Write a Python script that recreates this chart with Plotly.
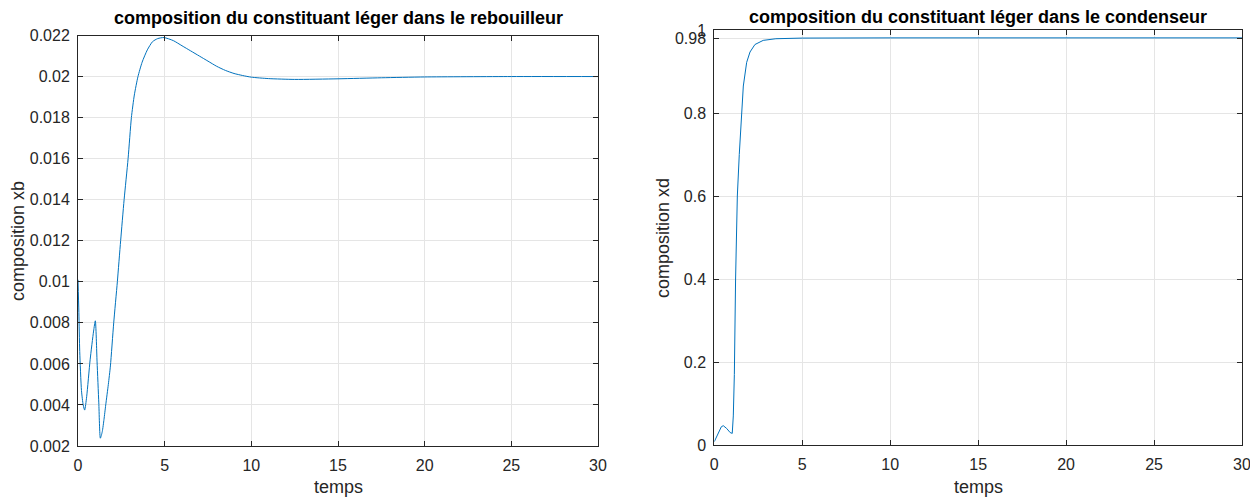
import plotly.graph_objects as go

# --- reboiler composition xb ---
t_b = [0, 0.05, 0.1, 0.2, 0.3, 0.385, 0.5, 0.7, 0.9, 1.0, 1.1, 1.2, 1.29, 1.4, 1.5, 1.6,
       1.75, 1.87, 2.06, 2.27, 2.46, 2.66, 2.89, 3.08, 3.25, 3.46, 3.7, 4.0, 4.3, 4.6, 4.96,
       5.5, 6.0, 6.5, 7.0, 7.5, 8.0, 8.5, 9.0, 9.5, 10.0, 11.0, 12.5, 15.0, 17.5, 20.0,
       25.0, 30.0]
xb = [0.0101, 0.0085, 0.0066, 0.0047, 0.0040, 0.00375, 0.0044, 0.0062, 0.0076, 0.0081,
      0.0061, 0.0041, 0.00238, 0.0027, 0.0033, 0.0040, 0.0050, 0.0059, 0.0080, 0.0100,
      0.0120, 0.0140, 0.0160, 0.0180, 0.0191, 0.0200, 0.0207, 0.0213, 0.0217, 0.02185,
      0.0219, 0.02175, 0.0215, 0.02125, 0.0210, 0.02075, 0.0205, 0.0203, 0.02015, 0.02005,
      0.01997, 0.0199, 0.01986, 0.01989, 0.01994, 0.01998, 0.0200, 0.0200]

# --- condenser composition xd ---
t_d = [0, 0.2, 0.4, 0.51, 0.7, 0.9, 1.02, 1.08, 1.14, 1.21, 1.31, 1.42, 1.56, 1.65,
       1.84, 2.03, 2.31, 2.78, 3.5, 5.0, 10.0, 20.0, 30.0]
xd = [0.008, 0.028, 0.044, 0.0465, 0.040, 0.030, 0.028, 0.07, 0.17, 0.40, 0.60, 0.70,
      0.80, 0.865, 0.922, 0.947, 0.965, 0.975, 0.979, 0.9805, 0.981, 0.981, 0.981]

x_ticks = [0, 5, 10, 15, 20, 25, 30]
yb_ticks = [0.002, 0.004, 0.006, 0.008, 0.010, 0.012, 0.014, 0.016, 0.018, 0.020, 0.022]
yb_labels = ["0.002", "0.004", "0.006", "0.008", "0.01", "0.012", "0.014", "0.016",
             "0.018", "0.02", "0.022"]
yd_ticks = [0, 0.2, 0.4, 0.6, 0.8, 0.98, 1]
yd_labels = ["0", "0.2", "0.4", "0.6", "0.8", "0.98", "1"]

titles = ["composition du constituant léger dans le rebouilleur",
          "composition du constituant léger dans le condenseur"]
xlabel = "temps"
ylabels = ["composition xb", "composition xd"]

# page body adds an 8px offset; lay out in page pixels and shift by it
OFF = 8
W, H = 1258 - OFF, 497 - OFF
LINE = "#0072BD"
AX = "#262626"
GRID = "#e5e5e5"
FONT = "Liberation Sans, Arial, sans-serif"

fig = go.Figure()
fig.add_trace(go.Scatter(x=t_b, y=xb, mode="lines",
                         line=dict(color=LINE, width=1, shape="spline", smoothing=0.6),
                         xaxis="x", yaxis="y", showlegend=False))
fig.add_trace(go.Scatter(x=t_d, y=xd, mode="lines", line=dict(color=LINE, width=1),
                         xaxis="x2", yaxis="y2", showlegend=False))

def px_x(p):
    return (p - OFF) / W

def px_y(p):
    return 1 - (p - OFF) / H

common_axis = dict(showline=True, linecolor=AX, linewidth=1, mirror="ticks",
                   ticks="inside", ticklen=5, tickcolor=AX, showgrid=True,
                   gridcolor=GRID, gridwidth=1, zeroline=False, automargin=False,
                   tickfont=dict(family=FONT, size=16, color=AX))

fig.update_layout(
    width=W, height=H, margin=dict(l=0, r=0, t=0, b=0, pad=0, autoexpand=False),
    paper_bgcolor="white", plot_bgcolor="white", showlegend=False,
    xaxis=dict(domain=[px_x(78), px_x(598)], range=[0, 30], tickvals=x_ticks,
               anchor="y", ticklabelstandoff=5, **common_axis),
    yaxis=dict(domain=[px_y(446), px_y(35.5)], range=[0.002, 0.022],
               tickvals=yb_ticks, ticktext=yb_labels, anchor="x",
               ticklabelstandoff=4, **common_axis),
    xaxis2=dict(domain=[px_x(714.3), px_x(1242)], range=[0, 30], tickvals=x_ticks,
                anchor="y2", ticklabelstandoff=5, **common_axis),
    yaxis2=dict(domain=[px_y(445), px_y(30)], range=[0, 1],
                tickvals=yd_ticks, ticktext=yd_labels, anchor="x2",
                ticklabelstandoff=4, **common_axis),
)

ann = []
ann.append(dict(text="<b>" + titles[0] + "</b>", x=px_x(338), y=px_y(18), xref="paper",
                yref="paper", showarrow=False, xanchor="center", yanchor="middle",
                font=dict(family=FONT, size=18, color="black")))
ann.append(dict(text="<b>" + titles[1] + "</b>", x=px_x(978), y=px_y(17), xref="paper",
                yref="paper", showarrow=False, xanchor="center", yanchor="middle",
                font=dict(family=FONT, size=18, color="black")))
for cx in (338, 978):
    ann.append(dict(text=xlabel, x=px_x(cx), y=px_y(487), xref="paper", yref="paper",
                    showarrow=False, xanchor="center", yanchor="middle",
                    font=dict(family=FONT, size=18, color=AX)))
ann.append(dict(text=ylabels[0], x=px_x(18), y=px_y(241), xref="paper", yref="paper",
                showarrow=False, textangle=-90, xanchor="center", yanchor="middle",
                font=dict(family=FONT, size=18, color=AX)))
ann.append(dict(text=ylabels[1], x=px_x(663), y=px_y(238), xref="paper", yref="paper",
                showarrow=False, textangle=-90, xanchor="center", yanchor="middle",
                font=dict(family=FONT, size=18, color=AX)))
fig.update_layout(annotations=ann)

fig.write_html("out.html")
